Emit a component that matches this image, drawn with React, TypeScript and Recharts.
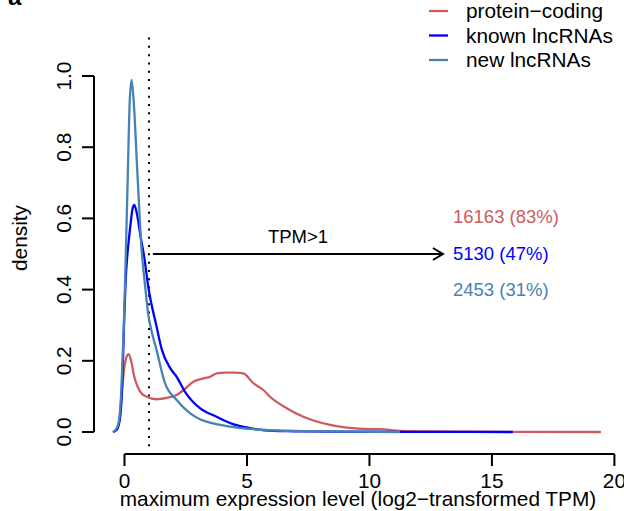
import React from "react";
import { LineChart, Line, XAxis, YAxis, ReferenceLine } from "recharts";

const FONT = '"Liberation Sans", Arial, Helvetica, sans-serif';
const FS = 20.8;
const FS_NOTE = 18.5;

// density curves (x = log2 TPM, y = density)
const proteinCoding = [
  { x: -0.47, y: 0 }, { x: -0.3, y: 0.008 }, { x: -0.2, y: 0.035 }, { x: -0.1, y: 0.12 },
  { x: 0.0, y: 0.185 }, { x: 0.08, y: 0.21 }, { x: 0.17, y: 0.219 }, { x: 0.27, y: 0.2 },
  { x: 0.4, y: 0.155 }, { x: 0.55, y: 0.125 }, { x: 0.7, y: 0.108 }, { x: 0.91, y: 0.099 },
  { x: 1.31, y: 0.092 }, { x: 1.72, y: 0.096 }, { x: 2.13, y: 0.104 }, { x: 2.45, y: 0.12 },
  { x: 2.81, y: 0.141 }, { x: 3.2, y: 0.15 }, { x: 3.49, y: 0.155 }, { x: 3.76, y: 0.165 },
  { x: 4.1, y: 0.167 }, { x: 4.5, y: 0.167 }, { x: 4.85, y: 0.165 }, { x: 5.26, y: 0.137 },
  { x: 5.67, y: 0.118 }, { x: 5.94, y: 0.099 }, { x: 6.62, y: 0.067 }, { x: 7.3, y: 0.043 },
  { x: 8.39, y: 0.02 }, { x: 9.07, y: 0.012 }, { x: 10.02, y: 0.008 }, { x: 10.43, y: 0.008 },
  { x: 11.24, y: 0.003 }, { x: 12.47, y: 0.0015 }, { x: 15.3, y: 0.0005 }, { x: 19.45, y: 0 },
];

const knownLnc = [
  { x: -0.47, y: 0 }, { x: -0.32, y: 0.006 }, { x: -0.18, y: 0.042 }, { x: -0.09, y: 0.138 },
  { x: -0.05, y: 0.23 }, { x: -0.01, y: 0.323 }, { x: 0.05, y: 0.43 }, { x: 0.12, y: 0.5 },
  { x: 0.22, y: 0.567 }, { x: 0.32, y: 0.624 }, { x: 0.4, y: 0.638 }, { x: 0.5, y: 0.615 },
  { x: 0.66, y: 0.548 }, { x: 0.81, y: 0.489 }, { x: 0.97, y: 0.408 }, { x: 1.31, y: 0.296 },
  { x: 1.53, y: 0.23 }, { x: 1.86, y: 0.18 }, { x: 2.13, y: 0.155 }, { x: 2.47, y: 0.113 },
  { x: 3.08, y: 0.067 }, { x: 3.76, y: 0.043 }, { x: 4.43, y: 0.022 }, { x: 5.12, y: 0.011 },
  { x: 6.06, y: 0.003 }, { x: 6.89, y: 0.002 }, { x: 8.39, y: 0.001 }, { x: 12.06, y: 0.0005 },
  { x: 15.85, y: 0 },
];

const newLnc = [
  { x: -0.47, y: 0 }, { x: -0.31, y: 0.011 }, { x: -0.22, y: 0.034 }, { x: -0.14, y: 0.104 },
  { x: -0.08, y: 0.202 }, { x: -0.02, y: 0.315 }, { x: 0.05, y: 0.489 }, { x: 0.14, y: 0.736 },
  { x: 0.21, y: 0.924 }, { x: 0.29, y: 0.989 }, { x: 0.38, y: 0.924 }, { x: 0.52, y: 0.736 },
  { x: 0.7, y: 0.511 }, { x: 0.85, y: 0.405 }, { x: 0.97, y: 0.33 }, { x: 1.1, y: 0.285 },
  { x: 1.31, y: 0.23 }, { x: 1.65, y: 0.138 }, { x: 2.13, y: 0.09 }, { x: 2.67, y: 0.053 },
  { x: 3.1, y: 0.035 }, { x: 3.62, y: 0.024 }, { x: 4.31, y: 0.015 }, { x: 5.4, y: 0.007 },
  { x: 6.89, y: 0.003 }, { x: 8.39, y: 0.0015 }, { x: 11.25, y: 0 },
];

const seriesNames = ["protein\u2212coding", "known lncRNAs", "new lncRNAs"];
const seriesColors = ["#CD5C5C", "#0000FF", "#4682B4"];
const countLabels = ["16163 (83%)", "5130 (47%)", "2453 (31%)"];
const xTicks = [0, 5, 10, 15, 20];
const yTicks = [0, 0.2, 0.4, 0.6, 0.8, 1.0];
const cutoff = 1;

const X_MIN = -1.245;
const X_MAX = 20.31;
const Y_MIN = -0.0618;
const Y_MAX = 1.1236;

const XTick = ({ x, y, payload }: any) => (
  <text x={x} y={y + 20} textAnchor="middle" fontSize={FS} fontFamily={FONT} fill="#000">
    {payload.value}
  </text>
);

const YTick = ({ x, y, payload }: any) => (
  <text
    x={x - 9}
    y={y}
    transform={`rotate(-90, ${x - 9}, ${y})`}
    textAnchor="middle"
    fontSize={FS}
    fontFamily={FONT}
    fill="#000"
  >
    {Number(payload.value).toFixed(1)}
  </text>
);

const Arrow = (props: any) => {
  const { x1, y1, x2, y2 } = props;
  return (
    <g>
      <line x1={x1} y1={y1} x2={x2} y2={y2} stroke="#000" strokeWidth={2} />
      <polyline
        points={`${x2 - 10},${y2 - 6} ${x2},${y2} ${x2 - 10},${y2 + 6}`}
        fill="none"
        stroke="#000"
        strokeWidth={2}
      />
    </g>
  );
};

export default function App() {
  const series = [proteinCoding, knownLnc, newLnc];
  return (
    <div style={{ position: "absolute", left: 0, top: 0, background: "#fff" }}>
      <LineChart width={624} height={511} margin={{ top: 32, right: 2, bottom: 0, left: 0 }}>
        <XAxis
          type="number"
          dataKey="x"
          domain={[X_MIN, X_MAX]}
          ticks={xTicks}
          interval={0}
          allowDataOverflow
          height={57}
          tickSize={12}
          axisLine={false}
          tickLine={{ stroke: "#000", strokeWidth: 2 }}
          tick={(p: any) => <XTick {...p} />}
        />
        <YAxis
          type="number"
          domain={[Y_MIN, Y_MAX]}
          ticks={yTicks}
          interval={0}
          allowDataOverflow
          width={94}
          tickSize={12}
          axisLine={false}
          tickLine={{ stroke: "#000", strokeWidth: 2 }}
          tick={(p: any) => <YTick {...p} />}
        />
        {/* R style axis lines, only between first and last tick */}
        <ReferenceLine
          segment={[{ x: xTicks[0], y: Y_MIN }, { x: xTicks[xTicks.length - 1], y: Y_MIN }]}
          stroke="#000"
          strokeWidth={2}
          ifOverflow="visible"
        />
        <ReferenceLine
          segment={[{ x: X_MIN, y: yTicks[0] }, { x: X_MIN, y: yTicks[yTicks.length - 1] }]}
          stroke="#000"
          strokeWidth={2}
          ifOverflow="visible"
        />
        <ReferenceLine
          segment={[{ x: cutoff, y: -0.04 }, { x: cutoff, y: Y_MAX }]}
          stroke="#000"
          strokeWidth={2}
          strokeDasharray="2 6.3"
          ifOverflow="visible"
        />
        <ReferenceLine
          segment={[{ x: 1.16, y: 0.5 }, { x: 13.0, y: 0.5 }]}
          ifOverflow="visible"
          shape={(p: any) => <Arrow {...p} />}
        />
        {series.map((d, i) => (
          <Line
            key={seriesNames[i]}
            data={d}
            dataKey="y"
            type="monotone"
            stroke={seriesColors[i]}
            strokeWidth={2.3}
            dot={false}
            activeDot={false}
            isAnimationActive={false}
          />
        ))}
        <text x={8} y={5} fontSize={24} fontWeight="bold" fontFamily={FONT} fill="#000">a</text>
        <text
          x={27}
          y={238}
          transform="rotate(-90, 27, 238)"
          textAnchor="middle"
          fontSize={FS}
          fontFamily={FONT}
          fill="#000"
        >
          density
        </text>
        <text x={358} y={506} textAnchor="middle" fontSize={FS} fontFamily={FONT} fill="#000">
          maximum expression level (log2{"\u2212"}transformed TPM)
        </text>
        <text x={298} y={243} textAnchor="middle" fontSize={FS_NOTE} fontFamily={FONT} fill="#000">
          TPM&gt;1
        </text>
        {countLabels.map((t, i) => (
          <text key={t} x={453} y={223 + i * 36.5} fontSize={FS_NOTE} fontFamily={FONT} fill={seriesColors[i]}>
            {t}
          </text>
        ))}
        {seriesNames.map((n, i) => (
          <g key={n}>
            <line x1={429} x2={448} y1={11 + i * 24.5} y2={11 + i * 24.5} stroke={seriesColors[i]} strokeWidth={2.3} />
            <text x={466} y={18 + i * 24.5} fontSize={FS} fontFamily={FONT} fill="#000">
              {n}
            </text>
          </g>
        ))}
      </LineChart>
    </div>
  );
}
